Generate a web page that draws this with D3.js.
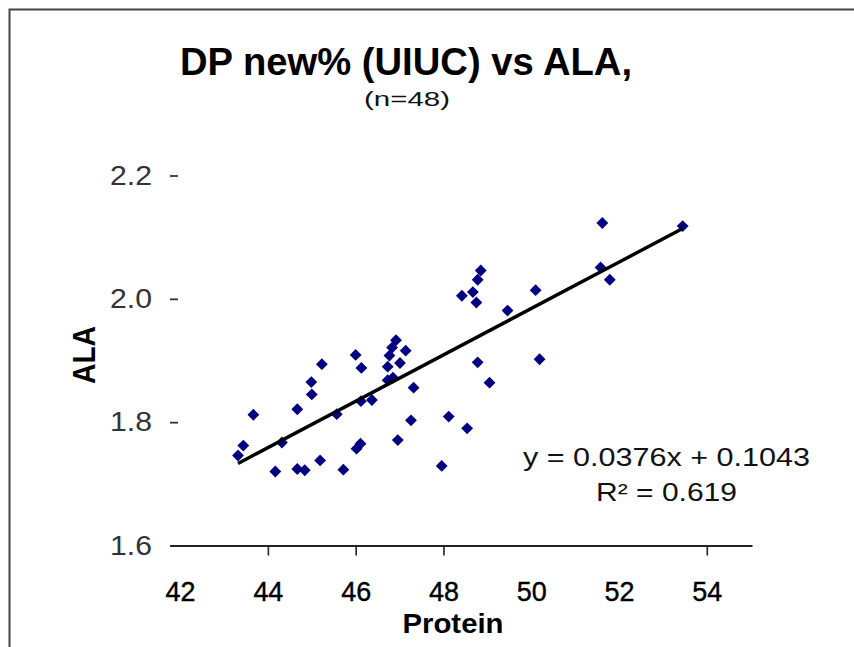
<!DOCTYPE html>
<html><head><meta charset="utf-8">
<script src="https://cdn.jsdelivr.net/npm/d3@7"></script>
<style>html,body{margin:0;padding:0;background:#fff;}svg{display:block;}</style>
</head><body>
<svg id="c" width="854" height="647"></svg>
<script>
const protein = [43.32,43.44,43.67,44.32,44.17,44.67,44.67,44.84,45.19,44.99,45.00,45.23,45.57,45.72,
  46.00,46.13,46.12,46.37,46.02,46.11,46.73,46.77,46.83,46.92,46.73,47.01,47.14,47.32,47.26,46.96,46.85,
  47.96,48.12,48.54,48.42,48.67,48.75,48.78,48.85,48.78,49.05,49.46,50.10,50.19,51.62,51.58,51.79,53.45];
const ala = [1.746,1.762,1.812,1.767,1.720,1.821,1.724,1.722,1.738,1.865,1.845,1.894,1.813,1.723,
  1.909,1.888,1.834,1.836,1.757,1.765,1.890,1.908,1.921,1.933,1.868,1.896,1.916,1.856,1.803,1.771,1.872,
  1.729,1.809,1.790,2.005,2.011,1.994,2.031,2.046,1.897,1.864,1.981,2.014,1.902,2.123,2.051,2.031,2.118];
const xTickValues = [42,44,46,48,50,52,54];
const xTickMarks = [44,46,48,54];
const yTickValues = [1.6,1.8,2.0,2.2];
const slope = 0.0376, intercept = 0.1043, r2 = 0.619;
const titleText = "DP new%  (UIUC) vs ALA,";
const subtitleText = "(n=48)";

const svg = d3.select("#c");
const FONT = "'Liberation Sans', Arial, sans-serif";

// frame
svg.append("rect").attr("x",9.5).attr("y",9.5).attr("width",900).attr("height",700)
  .attr("fill","none").attr("stroke","#444").attr("stroke-width",2);

const x = d3.scaleLinear().domain([41.77,55.03]).range([170,752]);
const y = d3.scaleLinear().domain([1.6,2.2]).range([545.5,175.5]);

// title
svg.append("text").attr("x",406).attr("y",75).attr("text-anchor","middle")
  .attr("font-family",FONT).attr("font-weight","bold").attr("font-size",38)
  .attr("textLength",452).attr("lengthAdjust","spacingAndGlyphs").text(titleText);
svg.append("text").attr("x",407).attr("y",106).attr("text-anchor","middle")
  .attr("font-family",FONT).attr("font-size",21).attr("fill","#111")
  .attr("textLength",86).attr("lengthAdjust","spacingAndGlyphs").text(subtitleText);

// y axis (no domain line, short inward ticks)
const gy = svg.append("g").attr("transform","translate(170,0)")
  .call(d3.axisLeft(y).tickValues(yTickValues).tickFormat(d3.format(".1f")).tickSizeInner(-8).tickSizeOuter(0).tickPadding(18));
gy.select(".domain").remove();
gy.selectAll(".tick line").attr("stroke","#333").attr("stroke-width",1.8);
gy.selectAll(".tick text").attr("font-family",FONT).attr("font-size",27).attr("fill","#333")
  .attr("textLength",42).attr("lengthAdjust","spacingAndGlyphs");

// x axis
const gx = svg.append("g").attr("transform","translate(0,545.5)")
  .call(d3.axisBottom(x).tickValues(xTickValues).tickFormat(d3.format("d")).tickSizeInner(10).tickSizeOuter(0).tickPadding(26));
gx.select(".domain").attr("stroke","#222").attr("stroke-width",2);
gx.selectAll(".tick line").attr("stroke","#222").attr("stroke-width",1.6)
  .attr("display", d => xTickMarks.includes(d) ? null : "none");
gx.selectAll(".tick text").attr("font-family",FONT).attr("font-size",27).attr("fill","#000")
  .attr("stroke","#000").attr("stroke-width",0.4)
  .attr("textLength",30).attr("lengthAdjust","spacingAndGlyphs");

// axis titles
svg.append("text").attr("x",453).attr("y",633).attr("text-anchor","middle")
  .attr("font-family",FONT).attr("font-weight","bold").attr("font-size",28)
  .attr("textLength",101).attr("lengthAdjust","spacingAndGlyphs").text("Protein");
svg.append("text").attr("transform","translate(95,355) rotate(-90)").attr("text-anchor","middle")
  .attr("font-family",FONT).attr("font-weight","bold").attr("font-size",32)
  .attr("textLength",58).attr("lengthAdjust","spacingAndGlyphs").text("ALA");

// points
const data = protein.map((p,i)=>({p, a: ala[i]}));
const sym = d3.symbol().type(d3.symbolSquare).size(70);
svg.append("g").selectAll("path").data(data).join("path")
  .attr("d", sym)
  .attr("transform", d => `translate(${x(d.p)},${y(d.a)}) rotate(45)`)
  .attr("fill","#000080");

// trend line
const x0 = d3.min(protein), x1 = d3.max(protein);
svg.append("line")
  .attr("x1",x(x0)).attr("y1",y(slope*x0+intercept))
  .attr("x2",x(x1)).attr("y2",y(slope*x1+intercept))
  .attr("stroke","#000").attr("stroke-width",3.4);

// equation
svg.append("text").attr("x",523).attr("y",466)
  .attr("font-family",FONT).attr("font-size",25).attr("fill","#111")
  .attr("textLength",287).attr("lengthAdjust","spacingAndGlyphs")
  .text(`y = ${slope}x  + ${intercept}`);
svg.append("text").attr("x",596).attr("y",501)
  .attr("font-family",FONT).attr("font-size",25).attr("fill","#111")
  .attr("textLength",141).attr("lengthAdjust","spacingAndGlyphs")
  .text(`R² = ${r2}`);
</script>
</body></html>
